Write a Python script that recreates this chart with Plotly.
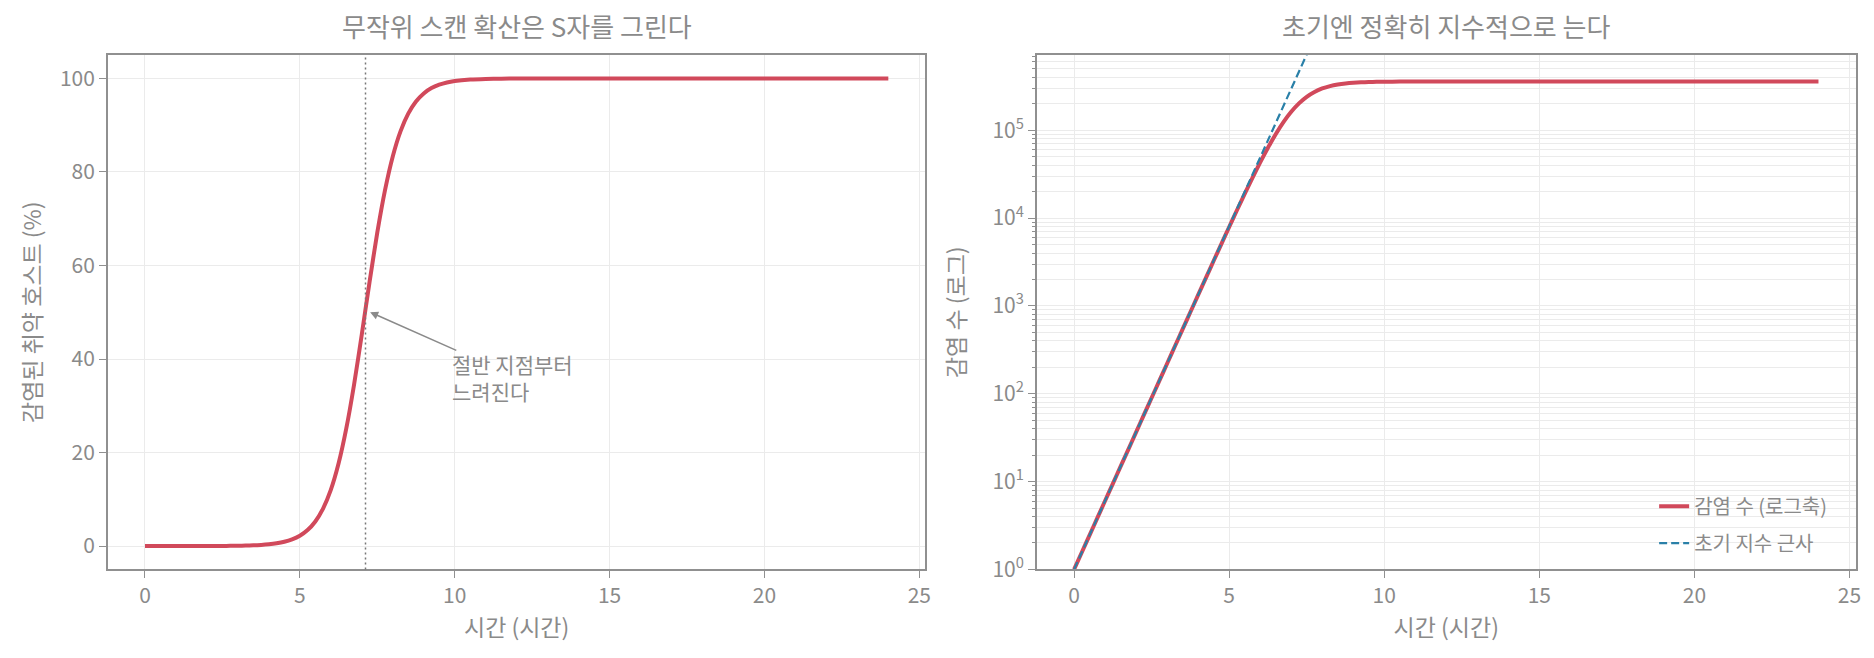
import plotly.graph_objects as go

# 시간 (시간) / 감염 수 — 그림에서 읽은 값
time_h = [0, 0.25, 0.5, 0.75, 1, 1.25, 1.5, 1.75, 2, 2.25, 2.5, 2.75, 3, 3.25, 3.5, 3.75,
          4, 4.25, 4.5, 4.75, 5, 5.25, 5.5, 5.75, 6, 6.25, 6.5, 6.75, 7, 7.25, 7.5, 7.75,
          8, 8.25, 8.5, 8.75, 9, 9.25, 9.5, 9.75, 10, 10.5, 11, 11.5, 12, 13, 14, 16,
          18, 20, 22, 24]
infected_pct = [0.0003, 0.0004, 0.0007, 0.0011, 0.0017, 0.0026, 0.0041, 0.0065, 0.0102,
                0.016, 0.025, 0.039, 0.062, 0.097, 0.152, 0.237, 0.372, 0.582, 0.909,
                1.419, 2.207, 3.419, 5.26, 8.009, 12.01, 17.64, 25.14, 34.5, 45.24, 56.44,
                67.02, 76.11, 83.33, 88.69, 92.48, 95.07, 96.8, 97.94, 98.67, 99.15, 99.46,
                99.78, 99.91, 99.96, 99.99, 100, 100, 100, 100, 100, 100, 100]
infected_count = [1, 1.57, 2.46, 3.86, 6.05, 9.49, 14.9, 23.3, 36.6, 57.4, 90.0, 141, 221,
                  347, 544, 852, 1334, 2088, 3265, 5094, 7924, 12274, 18882, 28754, 43131,
                  63320, 90258, 123856, 162403, 202612, 240589, 273249, 299141, 318378,
                  331990, 341299, 347505, 351588, 354237, 355946, 357047, 358204, 358676,
                  358868, 358946, 358991, 358998, 359000, 359000, 359000, 359000, 359000]
exp_time = [0, 8]
exp_count = [1, 1794075]
half_time = 7.12
log_ticks = [1, 10, 100, 1000, 10000, 100000]
log_labels = ["10<sup>0</sup>", "10<sup>1</sup>", "10<sup>2</sup>",
              "10<sup>3</sup>", "10<sup>4</sup>", "10<sup>5</sup>"]

RED = "#d1495b"
BLUE = "#2a80a8"
GREY = "#8a8a8a"
SPINE = "#909090"
GRID = "#ebebeb"
FONT = "Noto Sans CJK KR"

fig = go.Figure()

fig.add_trace(go.Scatter(x=time_h, y=infected_pct, mode="lines", showlegend=False,
                         line=dict(color=RED, width=4, shape="spline", smoothing=0.6),
                         xaxis="x", yaxis="y"))

fig.add_trace(go.Scatter(x=time_h, y=infected_count, mode="lines", name="감염 수 (로그축)",
                         legendgroup="a",
                         line=dict(color=RED, width=4, shape="spline", smoothing=0.6),
                         xaxis="x2", yaxis="y2"))
fig.add_trace(go.Scatter(x=exp_time, y=exp_count, mode="lines", name="초기 지수 근사",
                         legendgroup="b",
                         line=dict(color=BLUE, width=2.2, dash="8px,4px"),
                         xaxis="x2", yaxis="y2"))

axis_common = dict(showline=True, mirror=True, linecolor=SPINE, linewidth=1.5,
                   ticks="outside", ticklen=7, tickcolor=SPINE, tickwidth=1.2,
                   showgrid=True, gridcolor=GRID, gridwidth=1, zeroline=False,
                   tickfont=dict(size=21, color=GREY, family=FONT))
title_font = dict(size=23, color=GREY)

fig.update_layout(
    width=1874, height=658,
    margin=dict(l=0, r=0, t=0, b=0),
    paper_bgcolor="white", plot_bgcolor="white",
    font=dict(family=FONT, color=GREY),
    xaxis=dict(domain=[0.0534, 0.4909], range=[-1.2, 25.2], tick0=0, dtick=5,
               title=dict(text="시간 (시간)", font=title_font, standoff=8),
               anchor="y", **axis_common),
    yaxis=dict(domain=[0.1296, 0.927], range=[-5, 105], tick0=0, dtick=20,
               title=dict(text="감염된 취약 호스트 (%)", font=title_font, standoff=12),
               anchor="x", **axis_common),
    xaxis2=dict(domain=[0.5505, 0.9886], range=[-1.2, 25.2], tick0=0, dtick=5,
                title=dict(text="시간 (시간)", font=title_font, standoff=8),
                anchor="y2", **axis_common),
    yaxis2=dict(domain=[0.1296, 0.927], type="log", range=[0, 5.856],
                tickmode="array", tickvals=log_ticks, ticktext=log_labels,
                minor=dict(dtick="D1", ticks="outside", ticklen=3, tickcolor=SPINE,
                           showgrid=True, gridcolor=GRID, gridwidth=1),
                title=dict(text="감염 수 (로그)", font=title_font, standoff=20),
                anchor="x2", **axis_common),
    legend=dict(x=0.976, y=0.14, xanchor="right", yanchor="bottom",
                bgcolor="rgba(0,0,0,0)", font=dict(size=20, color=GREY),
                traceorder="grouped", tracegroupgap=8),
)

fig.add_shape(type="line", x0=half_time, x1=half_time, y0=0, y1=1,
              xref="x", yref="y domain",
              line=dict(color="#777777", width=1.5, dash="2px,3px"))

# 제목
for title, xc in [("무작위 스캔 확산은 S자를 그린다", (0.0534 + 0.4909) / 2),
                  ("초기엔 정확히 지수적으로 는다", (0.5505 + 0.9886) / 2)]:
    fig.add_annotation(text=title, x=xc, y=0.973, xref="paper", yref="paper",
                       xanchor="center", yanchor="middle", showarrow=False,
                       font=dict(size=26, color=GREY))

# 화살표 주석
fig.add_annotation(x=half_time + 0.15, y=50, ax=10.1, ay=41.7, xref="x", yref="y",
                   axref="x", ayref="y", text="", showarrow=True, arrowhead=2,
                   arrowsize=1, arrowwidth=1.6, arrowcolor=GREY)
fig.add_annotation(x=9.85, y=42.6, xref="x", yref="y", text="절반 지점부터<br>느려진다",
                   xanchor="left", yanchor="top", align="left", showarrow=False,
                   font=dict(size=21, color=GREY))

fig.write_html("out.html")
